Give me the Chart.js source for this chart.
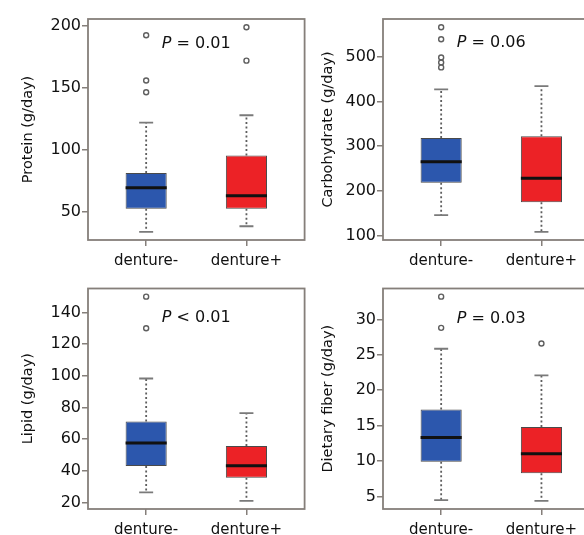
<!DOCTYPE html>
<html><head><meta charset="utf-8">
<script src="https://cdn.jsdelivr.net/npm/chart.js@4.4.0/dist/chart.umd.min.js"></script>
<style>
html,body{margin:0;padding:0;background:#fff;width:584px;height:535px;overflow:hidden;position:relative}
canvas{position:absolute}
</style></head><body>
<canvas id="c1" width="310" height="268" style="left:0;top:0"></canvas>
<canvas id="c2" width="310" height="268" style="left:295px;top:0"></canvas>
<canvas id="c3" width="310" height="269" style="left:0;top:268px"></canvas>
<canvas id="c4" width="310" height="269" style="left:295px;top:268px"></canvas>
<script>
const groups = ['denture-', 'denture+'];
const boxColors = ['#2c57ad', '#ec2226'];

// Protein (g/day)
const proteinMin = [34, 38.5];
const proteinQ1 = [52.5, 52.5];
const proteinMed = [69.5, 63];
const proteinQ3 = [81.5, 95.5];
const proteinMax = [122, 128];
const proteinOutMinus = [192.5, 156, 146.5];
const proteinOutPlus = [199, 172];
const proteinTicks = [50, 100, 150, 200];

// Carbohydrate (g/day)
const carbMin = [145.5, 108];
const carbQ1 = [218, 174];
const carbMed = [265, 228];
const carbQ3 = [318, 322];
const carbMax = [427, 434];
const carbOutMinus = [566, 539, 498, 487, 476];
const carbOutPlus = [];
const carbTicks = [100, 200, 300, 400, 500];

// Lipid (g/day)
const lipidMin = [26.3, 21];
const lipidQ1 = [43, 35.6];
const lipidMed = [57.5, 43.2];
const lipidQ3 = [71.2, 55.6];
const lipidMax = [98.3, 76.4];
const lipidOutMinus = [150, 130];
const lipidOutPlus = [];
const lipidTicks = [20, 40, 60, 80, 100, 120, 140];

// Dietary fiber (g/day)
const fiberMin = [4.5, 4.4];
const fiberQ1 = [9.9, 8.3];
const fiberMed = [13.35, 11.05];
const fiberQ3 = [17.3, 14.8];
const fiberMax = [25.85, 22.1];
const fiberOutMinus = [33.2, 28.8];
const fiberOutPlus = [26.6];
const fiberTicks = [5, 10, 15, 20, 25, 30];

const pValues = ['= 0.01', '= 0.06', '< 0.01', '= 0.03'];

const FONT = '"DejaVu Sans", "Liberation Sans", Arial, sans-serif';
const FRAME = '#857f7a';
const TEXT = '#111111';

const boxPlugin = {
  id: 'boxParts',
  afterDatasetsDraw(chart) {
    const st = chart.options.plugins.boxParts;
    const meta = chart.getDatasetMeta(0);
    const ys = chart.scales.y;
    const ctx = chart.ctx;
    ctx.save();
    meta.data.forEach((el, i) => {
      const x = el.x, w = el.width;
      const yMin = ys.getPixelForValue(st.min[i]);
      const yQ1 = ys.getPixelForValue(st.q1[i]);
      const yMed = ys.getPixelForValue(st.med[i]);
      const yQ3 = ys.getPixelForValue(st.q3[i]);
      const yMax = ys.getPixelForValue(st.max[i]);
      // whiskers
      ctx.strokeStyle = '#5e5e5e';
      ctx.lineWidth = 1.8;
      ctx.setLineDash([2, 2.5]);
      ctx.beginPath();
      ctx.moveTo(x, yQ3); ctx.lineTo(x, yMax);
      ctx.moveTo(x, yQ1); ctx.lineTo(x, yMin);
      ctx.stroke();
      ctx.setLineDash([]);
      // caps
      const cap = w * 0.17;
      ctx.strokeStyle = '#7a7a7a';
      ctx.lineWidth = 1.8;
      ctx.beginPath();
      ctx.moveTo(x - cap, yMax); ctx.lineTo(x + cap, yMax);
      ctx.moveTo(x - cap, yMin); ctx.lineTo(x + cap, yMin);
      ctx.stroke();
      // median
      ctx.strokeStyle = '#111';
      ctx.lineWidth = 3;
      ctx.beginPath();
      ctx.moveTo(x - w / 2, yMed); ctx.lineTo(x + w / 2, yMed);
      ctx.stroke();
    });
    ctx.restore();
  },
  afterDraw(chart) {
    const st = chart.options.plugins.boxParts;
    const ctx = chart.ctx;
    const a = chart.chartArea;
    ctx.save();
    ctx.strokeStyle = FRAME;
    ctx.lineWidth = 1.8;
    ctx.strokeRect(a.left, a.top, a.right - a.left, a.bottom - a.top);
    // P annotation
    const cx = chart.scales.x.getPixelForValue(1.5);
    const cy = a.top + st.pOffset;
    ctx.fillStyle = TEXT;
    ctx.textBaseline = 'middle';
    ctx.font = 'italic 16px ' + FONT;
    const w1 = ctx.measureText('P').width;
    ctx.font = '16px ' + FONT;
    const rest = ' ' + st.p;
    const w2 = ctx.measureText(rest).width;
    const x0 = cx - (w1 + w2) / 2;
    ctx.font = 'italic 16px ' + FONT;
    ctx.textAlign = 'left';
    ctx.fillText('P', x0, cy);
    ctx.font = '16px ' + FONT;
    ctx.fillText(rest, x0 + w1, cy);
    ctx.restore();
  }
};

function makePanel(id, cfg) {
  const boxData = groups.map((g, i) => ({ x: i + 1, y: [cfg.q1[i], cfg.q3[i]] }));
  const outData = [];
  cfg.out.forEach((arr, i) => arr.forEach(v => outData.push({ x: i + 1, y: v })));
  const all = [...cfg.min, ...cfg.max, ...cfg.out.flat()];
  const lo = Math.min(...all), hi = Math.max(...all), pad = (hi - lo) * 0.04;
  new Chart(document.getElementById(id), {
    type: 'bar',
    data: {
      datasets: [
        { type: 'bar', data: boxData, backgroundColor: boxColors, borderColor: '#4a4a4a',
          borderWidth: 1, borderSkipped: false, barPercentage: 0.41, categoryPercentage: 1, order: 2 },
        { type: 'scatter', data: outData, pointRadius: 2.5, pointBorderWidth: 1.4,
          pointBorderColor: '#5f5f5f', pointBackgroundColor: 'rgba(0,0,0,0)', order: 1 }
      ]
    },
    options: {
      responsive: false, animation: false, devicePixelRatio: 1,
      layout: { padding: { top: cfg.padTop, right: 5, left: 0, bottom: 0 } },
      plugins: {
        legend: { display: false }, tooltip: { enabled: false },
        boxParts: { min: cfg.min, q1: cfg.q1, med: cfg.med, q3: cfg.q3, max: cfg.max, p: cfg.p, pOffset: cfg.pOffset }
      },
      scales: {
        x: {
          type: 'linear', min: 0.42, max: 2.58, offset: false,
          afterBuildTicks: s => { s.ticks = groups.map((g, i) => ({ value: i + 1 })); },
          afterFit: s => { s.height = 28; },
          ticks: { callback: v => groups[v - 1], font: { family: FONT, size: 15 }, color: TEXT,
                   padding: 6, maxRotation: 0, autoSkip: false },
          grid: { drawOnChartArea: false, drawTicks: true, tickLength: 6, color: FRAME, lineWidth: 1.5, offset: false },
          border: { display: false }
        },
        y: {
          type: 'linear', min: lo - pad, max: hi + pad, beginAtZero: false,
          afterBuildTicks: s => { s.ticks = cfg.ticks.map(v => ({ value: v })); },
          afterFit: s => { s.width = 88; },
          ticks: { font: { family: FONT, size: 16 }, color: TEXT, padding: 1 },
          grid: { drawOnChartArea: false, drawTicks: true, tickLength: 6, color: FRAME, lineWidth: 1.5 },
          border: { display: false },
          title: { display: true, text: cfg.title, font: { family: FONT, size: 14.5 }, color: TEXT,
                   padding: { top: cfg.titlePad, bottom: 0 } }
        }
      }
    },
    plugins: [boxPlugin]
  });
}

makePanel('c1', { min: proteinMin, q1: proteinQ1, med: proteinMed, q3: proteinQ3, max: proteinMax,
  out: [proteinOutMinus, proteinOutPlus], ticks: proteinTicks, title: 'Protein (g/day)',
  p: pValues[0], padTop: 19, titlePad: 19.5, pOffset: 25 });
makePanel('c2', { min: carbMin, q1: carbQ1, med: carbMed, q3: carbQ3, max: carbMax,
  out: [carbOutMinus, carbOutPlus], ticks: carbTicks, title: 'Carbohydrate (g/day)',
  p: pValues[1], padTop: 19, titlePad: 24.5, pOffset: 24 });
makePanel('c3', { min: lipidMin, q1: lipidQ1, med: lipidMed, q3: lipidQ3, max: lipidMax,
  out: [lipidOutMinus, lipidOutPlus], ticks: lipidTicks, title: 'Lipid (g/day)',
  p: pValues[2], padTop: 20.5, titlePad: 19.5, pOffset: 29 });
makePanel('c4', { min: fiberMin, q1: fiberQ1, med: fiberMed, q3: fiberQ3, max: fiberMax,
  out: [fiberOutMinus, fiberOutPlus], ticks: fiberTicks, title: 'Dietary fiber (g/day)',
  p: pValues[3], padTop: 20.5, titlePad: 24.5, pOffset: 30 });
</script>
</body></html>
